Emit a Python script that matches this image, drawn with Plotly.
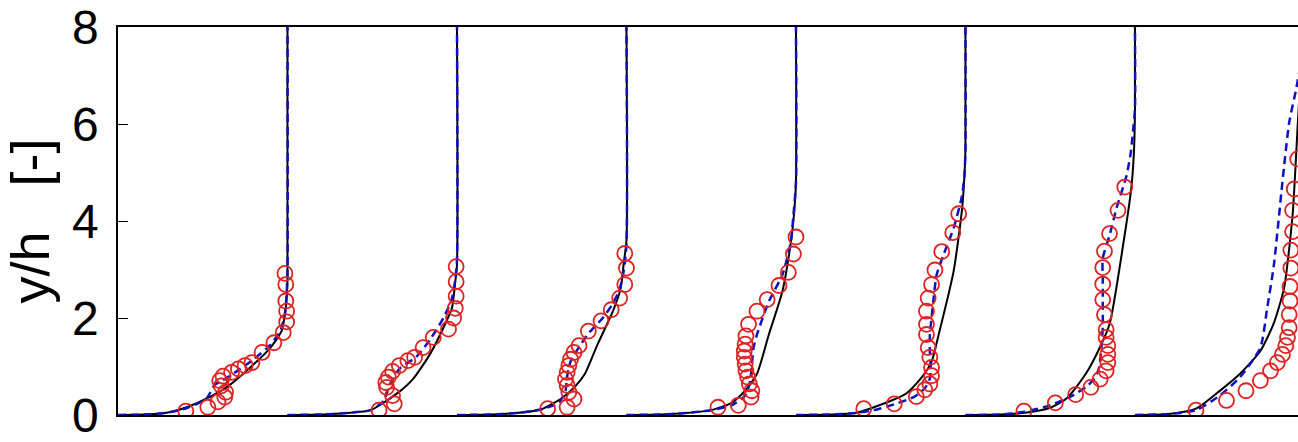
import plotly.graph_objects as go

# Station offsets (each profile drawn as offset + u/U)
OFFSETS = [0, 1, 2, 3, 4, 5, 6]

# Experimental data (red circles): y/h and u/U per station
EXP_Y = [
    [0.08, 0.16, 0.27, 0.37, 0.47, 0.60, 0.71, 0.80, 0.88, 0.95, 1.02, 1.08, 1.29, 1.49, 1.70, 1.92, 2.14, 2.35, 2.69, 2.92],
    [0.10, 0.23, 0.40, 0.57, 0.67, 0.78, 0.90, 1.02, 1.12, 1.19, 1.39, 1.60, 1.77, 2.00, 2.20, 2.45, 2.75, 3.06],
    [0.13, 0.16, 0.33, 0.47, 0.61, 0.74, 0.88, 1.02, 1.15, 1.29, 1.43, 1.73, 1.94, 2.17, 2.41, 2.69, 3.03, 3.33],
    [0.16, 0.20, 0.37, 0.50, 0.64, 0.78, 0.91, 1.05, 1.19, 1.32, 1.46, 1.63, 1.87, 2.14, 2.38, 2.67, 2.94, 3.32, 3.67],
    [0.13, 0.23, 0.38, 0.52, 0.64, 0.81, 0.98, 1.19, 1.39, 1.66, 1.87, 2.14, 2.41, 2.69, 2.99, 3.37, 3.76, 4.15],
    [0.08, 0.25, 0.42, 0.57, 0.74, 0.91, 1.08, 1.25, 1.43, 1.60, 1.76, 2.07, 2.38, 2.70, 3.04, 3.38, 3.74, 4.22, 4.70],
    [0.10, 0.30, 0.50, 0.71, 0.91, 1.08, 1.25, 1.43, 1.60, 1.80, 2.07, 2.35, 2.65, 3.03, 3.40, 3.78, 4.22, 4.66, 5.28],
]
EXP_U = [
    [0.40, 0.53, 0.59, 0.63, 0.635, 0.61, 0.60, 0.62, 0.67, 0.71, 0.75, 0.79, 0.85, 0.92, 0.975, 0.995, 0.995, 0.99, 0.99, 0.985],
    [0.54, 0.63, 0.62, 0.585, 0.58, 0.595, 0.62, 0.66, 0.71, 0.75, 0.80, 0.86, 0.95, 0.98, 0.99, 0.995, 0.995, 0.995],
    [0.535, 0.65, 0.69, 0.66, 0.65, 0.64, 0.65, 0.66, 0.67, 0.69, 0.72, 0.775, 0.85, 0.91, 0.96, 0.99, 1.00, 0.99],
    [0.54, 0.66, 0.735, 0.74, 0.725, 0.715, 0.705, 0.70, 0.695, 0.695, 0.70, 0.705, 0.72, 0.77, 0.83, 0.90, 0.955, 0.985, 1.00],
    [0.40, 0.58, 0.71, 0.76, 0.79, 0.80, 0.80, 0.79, 0.78, 0.77, 0.77, 0.77, 0.78, 0.80, 0.82, 0.86, 0.925, 0.96],
    [0.345, 0.53, 0.65, 0.74, 0.795, 0.83, 0.84, 0.84, 0.84, 0.83, 0.83, 0.82, 0.81, 0.81, 0.81, 0.82, 0.85, 0.90, 0.94],
    [0.36, 0.54, 0.655, 0.74, 0.80, 0.84, 0.87, 0.89, 0.90, 0.91, 0.91, 0.915, 0.915, 0.92, 0.92, 0.93, 0.93, 0.94, 0.96],
]

# Model 1 (black solid)
BLK_Y = [
    [0, 0.01, 0.03, 0.06, 0.16, 0.37, 0.57, 0.98, 1.39, 1.73, 2.07, 2.40, 2.80, 8],
    [0, 0.01, 0.04, 0.10, 0.44, 0.74, 1.25, 1.80, 2.20, 2.75, 3.10, 8],
    [0, 0.01, 0.04, 0.12, 0.35, 0.60, 0.85, 1.46, 2.14, 2.60, 3.16, 3.60, 8],
    [0, 0.01, 0.04, 0.10, 0.25, 0.50, 0.85, 1.66, 2.55, 3.57, 4.20, 4.80, 8],
    [0, 0.01, 0.04, 0.16, 0.44, 0.81, 1.10, 1.70, 2.96, 4.25, 5.00, 5.50, 8],
    [0, 0.01, 0.04, 0.15, 0.35, 0.85, 1.30, 1.87, 3.50, 4.73, 5.50, 6.30, 8],
    [0, 0.02, 0.13, 0.44, 0.85, 1.32, 1.90, 2.62, 4.12, 5.96, 7.20, 8],
]
BLK_U = [
    [0, 0.15, 0.25, 0.31, 0.405, 0.54, 0.64, 0.78, 0.90, 0.965, 0.985, 0.995, 1.0, 1.0],
    [0, 0.20, 0.35, 0.49, 0.645, 0.74, 0.84, 0.92, 0.97, 0.99, 1.0, 1.0],
    [0, 0.20, 0.35, 0.50, 0.62, 0.70, 0.755, 0.83, 0.92, 0.965, 0.985, 1.0, 1.0],
    [0, 0.20, 0.35, 0.50, 0.62, 0.70, 0.77, 0.84, 0.92, 0.97, 0.99, 1.0, 1.0],
    [0, 0.20, 0.35, 0.46, 0.65, 0.75, 0.80, 0.845, 0.93, 0.98, 0.995, 1.0, 1.0],
    [0, 0.20, 0.34, 0.50, 0.60, 0.71, 0.78, 0.85, 0.93, 0.98, 0.995, 1.0, 1.0],
    [0, 0.20, 0.36, 0.48, 0.62, 0.74, 0.82, 0.88, 0.93, 0.96, 0.98, 0.99],
]

# Model 2 (blue dashed)
BLU_Y = [
    [0, 0.01, 0.03, 0.06, 0.15, 0.33, 0.50, 0.62, 0.72, 0.90, 1.15, 1.45, 1.75, 2.10, 2.50, 3.00, 8],
    [0, 0.01, 0.04, 0.10, 0.30, 0.60, 0.95, 1.20, 1.55, 2.00, 2.40, 2.80, 3.20, 8],
    [0, 0.01, 0.04, 0.12, 0.25, 0.50, 0.80, 1.10, 1.40, 1.70, 2.00, 2.30, 2.60, 3.00, 3.50, 8],
    [0, 0.01, 0.04, 0.10, 0.20, 0.40, 0.70, 1.05, 1.39, 1.66, 2.34, 2.89, 3.57, 4.12, 4.80, 8],
    [0, 0.01, 0.04, 0.10, 0.22, 0.38, 0.55, 0.75, 1.00, 1.30, 1.66, 2.00, 2.34, 2.89, 3.30, 3.85, 4.53, 5.00, 5.50, 8],
    [0, 0.01, 0.06, 0.20, 0.38, 0.60, 0.80, 1.00, 1.30, 1.80, 2.30, 2.80, 3.23, 3.70, 4.25, 4.93, 5.40, 5.90, 6.30, 8],
    [0, 0.02, 0.10, 0.40, 0.78, 1.39, 2.20, 3.10, 4.80, 6.03, 6.70, 7.30, 8],
]
BLU_U = [
    [0, 0.15, 0.25, 0.31, 0.41, 0.52, 0.55, 0.57, 0.62, 0.70, 0.80, 0.90, 0.96, 0.985, 0.995, 1.0, 1.0],
    [0, 0.20, 0.35, 0.49, 0.57, 0.60, 0.66, 0.76, 0.84, 0.92, 0.97, 0.99, 1.0, 1.0],
    [0, 0.20, 0.35, 0.50, 0.60, 0.64, 0.65, 0.67, 0.72, 0.78, 0.86, 0.92, 0.96, 0.985, 1.0, 1.0],
    [0, 0.20, 0.35, 0.50, 0.62, 0.70, 0.73, 0.74, 0.75, 0.77, 0.84, 0.92, 0.97, 0.985, 1.0, 1.0],
    [0, 0.20, 0.35, 0.46, 0.58, 0.70, 0.76, 0.79, 0.795, 0.79, 0.79, 0.80, 0.81, 0.83, 0.87, 0.93, 0.98, 0.995, 1.0, 1.0],
    [0, 0.20, 0.34, 0.50, 0.62, 0.72, 0.77, 0.79, 0.80, 0.81, 0.81, 0.81, 0.81, 0.85, 0.89, 0.95, 0.975, 0.99, 1.0, 1.0],
    [0, 0.20, 0.36, 0.50, 0.62, 0.74, 0.78, 0.82, 0.87, 0.91, 0.95, 0.98, 1.0],
]

Y_TICKS = [0, 2, 4, 6, 8]
Y_TITLE = "y/h\u00a0\u00a0\u00a0[-]"

fig = go.Figure()

for i, off in enumerate(OFFSETS):
    fig.add_trace(go.Scatter(
        x=[off + u for u in BLK_U[i]], y=BLK_Y[i], mode="lines",
        line=dict(color="black", width=2, shape="spline", smoothing=0.6),
        showlegend=False, hoverinfo="skip"))
for i, off in enumerate(OFFSETS):
    fig.add_trace(go.Scatter(
        x=[off + u for u in BLU_U[i]], y=BLU_Y[i], mode="lines",
        line=dict(color="#1010c0", width=2.5, dash="8px,5px", shape="spline", smoothing=0.6),
        showlegend=False, hoverinfo="skip"))
for i, off in enumerate(OFFSETS):
    fig.add_trace(go.Scatter(
        x=[off + u for u in EXP_U[i]], y=EXP_Y[i], mode="markers",
        marker=dict(symbol="circle-open", size=15, color="#dd2222", line=dict(width=1.8, color="#dd2222")),
        showlegend=False, hoverinfo="skip"))

fig.update_layout(
    width=1298, height=442,
    margin=dict(l=118, r=0, t=27, b=24),
    paper_bgcolor="white", plot_bgcolor="white",
    font=dict(family="Liberation Sans, Arial, sans-serif", color="black"),
    showlegend=False,
)
fig.update_xaxes(
    range=[0, 6.962], showgrid=False, zeroline=False,
    showline=True, mirror=True, linecolor="black", linewidth=1.5,
    showticklabels=False, ticks="",
)
fig.update_yaxes(
    range=[0, 8], showgrid=False, zeroline=False,
    showline=True, mirror=False, linecolor="black", linewidth=1.5,
    tickvals=Y_TICKS, ticktext=[str(v) for v in Y_TICKS],
    ticks="inside", ticklen=10, tickwidth=1, tickcolor="black",
    tickfont=dict(size=48), ticklabelstandoff=8, ticklabeloverflow="allow",
    title=dict(text=Y_TITLE, font=dict(size=54), standoff=8),
)

fig.write_html(
    "out.html",
    config={"displayModeBar": False},
    post_script="document.body.style.margin='0';document.body.style.overflow='hidden';",
)
